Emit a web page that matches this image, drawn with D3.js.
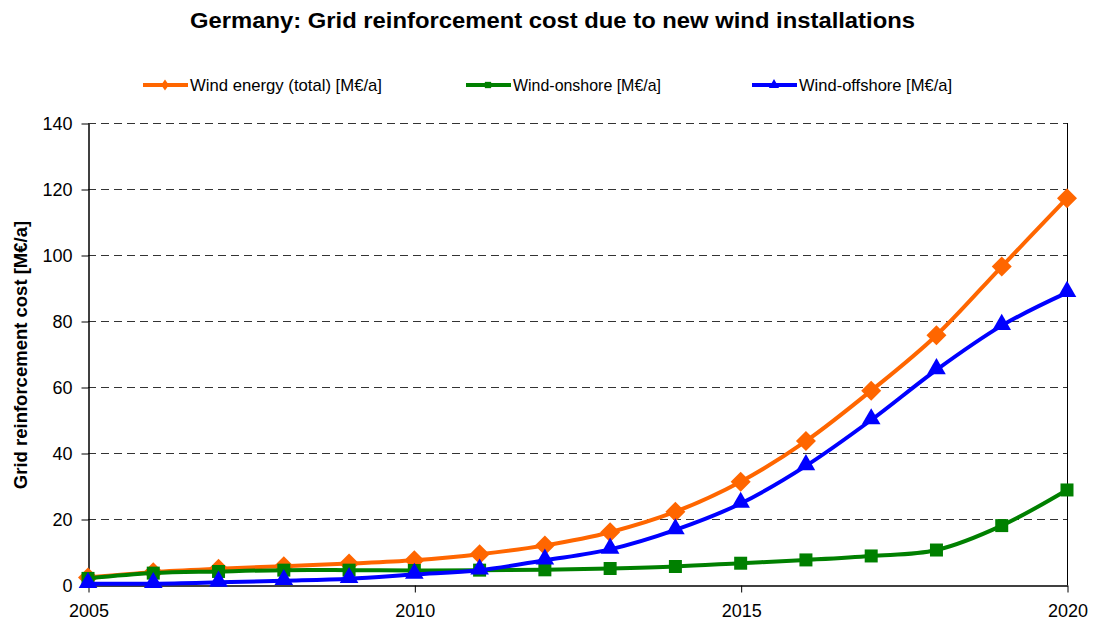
<!DOCTYPE html>
<html>
<head>
<meta charset="utf-8">
<script src="https://cdn.jsdelivr.net/npm/d3@7"></script>
<style>
  body { margin: 0; background: #fff; }
  text { font-family: "Liberation Sans", Arial, sans-serif; }
</style>
</head>
<body>
<svg id="chart" width="1096" height="622"></svg>
<script>
var years = [2005, 2006, 2007, 2008, 2009, 2010, 2011, 2012, 2013, 2014, 2015, 2016, 2017, 2018, 2019, 2020];
var windTotal = [2.3, 3.9, 4.9, 5.7, 6.5, 7.5, 9.3, 12.0, 16.0, 22.2, 31.3, 43.6, 58.9, 75.7, 96.5, 117.2];
var windOnshore = [2.0, 3.6, 4.1, 4.5, 4.5, 4.4, 4.5, 4.6, 5.0, 5.6, 6.6, 7.6, 8.8, 10.6, 18.0, 28.8];
var windOffshore = [0.4, 0.4, 0.8, 1.3, 1.9, 3.2, 4.5, 7.5, 10.8, 16.7, 24.7, 36.1, 50.0, 65.2, 78.6, 88.6];
var yTicks = [0, 20, 40, 60, 80, 100, 120, 140];
var xTicks = [2005, 2010, 2015, 2020];
var seriesNames = ["Wind energy (total) [M\u20ac/a]", "Wind-onshore [M\u20ac/a]", "Wind-offshore [M\u20ac/a]"];
var seriesColors = ["#ff6600", "#008000", "#0000ff"];

var svg = d3.select("#chart");
var margin = {left: 88, right: 1067, top: 123, bottom: 585};

var x = d3.scaleLinear().domain([2005, 2020]).range([margin.left, margin.right]);
var y = d3.scaleLinear().domain([0, 140]).range([margin.bottom, margin.top]);

// title
svg.append("text")
    .attr("x", 190).attr("y", 28)
    .attr("textLength", 725).attr("lengthAdjust", "spacingAndGlyphs")
    .style("font-size", "22px").style("font-weight", "bold")
    .text("Germany: Grid reinforcement cost due to new wind installations");

// gridlines
svg.append("g").selectAll("line")
    .data(yTicks.filter(function (d) { return d > 0; }))
    .enter().append("line")
    .attr("x1", margin.left).attr("x2", margin.right)
    .attr("y1", function (d) { return y(d) + 0.5; })
    .attr("y2", function (d) { return y(d) + 0.5; })
    .attr("stroke", "#333").attr("stroke-width", 1)
    .attr("stroke-dasharray", "8,5");

// right border
svg.append("line")
    .attr("x1", margin.right + 0.5).attr("x2", margin.right + 0.5)
    .attr("y1", margin.top).attr("y2", margin.bottom)
    .attr("stroke", "#000");

// axes
var yAxis = svg.append("g")
    .attr("transform", "translate(" + (margin.left + 0.5) + ",0.5)")
    .call(d3.axisLeft(y).tickValues(yTicks).tickSize(7).tickSizeOuter(0).tickPadding(9));
var xAxis = svg.append("g")
    .attr("transform", "translate(0.5," + (margin.bottom + 0.5) + ")")
    .call(d3.axisBottom(x).tickValues(xTicks).tickFormat(d3.format("d")).tickSize(7).tickSizeOuter(0).tickPadding(12));
[yAxis, xAxis].forEach(function (a) {
    a.select(".domain").attr("stroke", "#000").attr("stroke-width", 1.5);
    a.selectAll(".tick line").attr("stroke", "#000");
    a.selectAll("text").style("font-size", "18px").style("font-family", "'Liberation Sans', Arial, sans-serif").attr("fill", "#000");
});

// y label
svg.append("text")
    .attr("transform", "translate(27,355) rotate(-90)")
    .attr("text-anchor", "middle")
    .style("font-size", "18.5px").style("font-weight", "bold")
    .text("Grid reinforcement cost [M\u20ac/a]");

var allSeries = [windTotal, windOnshore, windOffshore];
var fillSymbols = [
    d3.symbol().type({draw: function (ctx, size) {
        var r = Math.sqrt(size / 2);
        ctx.moveTo(0, -r); ctx.lineTo(r, 0); ctx.lineTo(0, r); ctx.lineTo(-r, 0); ctx.closePath();
    }}).size(200),
    d3.symbol().type(d3.symbolSquare).size(169),
    d3.symbol().type(d3.symbolTriangle).size(150)
];

var line = d3.line()
    .x(function (d, i) { return x(years[i]); })
    .y(function (d) { return y(d); })
    .curve(d3.curveCardinal.tension(0));

[0, 1, 2].forEach(function (s) {
    var g = svg.append("g");
    g.append("path")
        .attr("d", line(allSeries[s]))
        .attr("fill", "none")
        .attr("stroke", seriesColors[s])
        .attr("stroke-width", 4)
        .attr("stroke-linejoin", "round");
    g.selectAll("path.m")
        .data(allSeries[s])
        .enter().append("path")
        .attr("class", "m")
        .attr("d", fillSymbols[s])
        .attr("transform", function (d, i) {
            var dy = s === 2 ? -1 : 0;
            return "translate(" + x(years[i]) + "," + (y(d) + dy) + ")";
        })
        .attr("fill", seriesColors[s]);
});

// legend
var legendX = [143, 466, 752];
var legendTextW = [192, 148, 153];
var legendSyms = [
    d3.symbol().type({draw: function (ctx, size) {
        var r = Math.sqrt(size / 2);
        ctx.moveTo(0, -r); ctx.lineTo(r * 0.7, 0); ctx.lineTo(0, r); ctx.lineTo(-r * 0.7, 0); ctx.closePath();
    }}).size(60),
    d3.symbol().type(d3.symbolSquare).size(40),
    d3.symbol().type(d3.symbolTriangle).size(45)
];
seriesNames.forEach(function (name, s) {
    var lg = svg.append("g").attr("transform", "translate(" + legendX[s] + ",85)");
    lg.append("line").attr("x1", 0).attr("x2", 45).attr("y1", 0).attr("y2", 0)
        .attr("stroke", seriesColors[s]).attr("stroke-width", 4);
    lg.append("path").attr("d", legendSyms[s]).attr("transform", "translate(22,0)").attr("fill", seriesColors[s]);
    lg.append("text").attr("x", 47).attr("y", 6)
        .attr("textLength", legendTextW[s]).attr("lengthAdjust", "spacingAndGlyphs")
        .style("font-size", "17px")
        .text(name);
});
</script>
</body>
</html>
